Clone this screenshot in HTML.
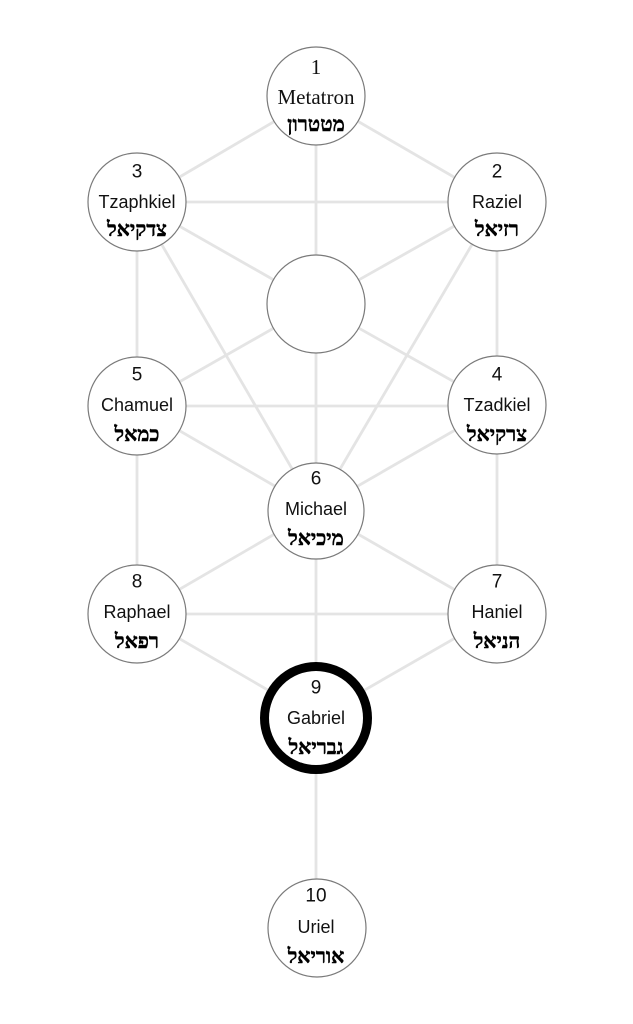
<!DOCTYPE html>
<html>
<head>
<meta charset="utf-8">
<style>
  html,body{margin:0;padding:0;background:#fff;}
  svg{display:block;}
  .num,.name{font-family:"Liberation Sans","DejaVu Sans",sans-serif;font-size:18px;fill:#111;}
  .num{font-size:19px;}
  .serif{font-family:"Liberation Serif","DejaVu Serif",serif;font-size:21px;fill:#111;}
  .heb{font-family:"Liberation Serif","DejaVu Serif",serif;font-size:20.5px;font-weight:bold;fill:#000;stroke:#000;stroke-width:0.45;}
</style>
</head>
<body>
<svg width="633" height="1024" viewBox="0 0 633 1024" xmlns="http://www.w3.org/2000/svg">
  <g stroke="#e4e4e4" stroke-width="2.8" fill="none">
    <line x1="316" y1="97" x2="316" y2="927"/>
    <line x1="316" y1="97" x2="137" y2="202"/>
    <line x1="316" y1="97" x2="497" y2="202"/>
    <line x1="137" y1="202" x2="497" y2="202"/>
    <line x1="137" y1="202" x2="316" y2="304"/>
    <line x1="497" y1="202" x2="316" y2="304"/>
    <line x1="137" y1="202" x2="137" y2="614"/>
    <line x1="497" y1="202" x2="497" y2="614"/>
    <line x1="137" y1="202" x2="316" y2="510"/>
    <line x1="497" y1="202" x2="316" y2="510"/>
    <line x1="137" y1="406" x2="316" y2="304"/>
    <line x1="497" y1="406" x2="316" y2="304"/>
    <line x1="137" y1="406" x2="497" y2="406"/>
    <line x1="137" y1="406" x2="316" y2="510"/>
    <line x1="497" y1="406" x2="316" y2="510"/>
    <line x1="316" y1="510" x2="137" y2="614"/>
    <line x1="316" y1="510" x2="497" y2="614"/>
    <line x1="137" y1="614" x2="497" y2="614"/>
    <line x1="137" y1="614" x2="316" y2="718"/>
    <line x1="497" y1="614" x2="316" y2="718"/>
  </g>

  <g fill="#fff" stroke="#7a7a7a" stroke-width="1.2">
    <circle cx="316" cy="96" r="49"/>
    <circle cx="137" cy="202" r="49"/>
    <circle cx="497" cy="202" r="49"/>
    <circle cx="316" cy="304" r="49"/>
    <circle cx="137" cy="406" r="49"/>
    <circle cx="497" cy="405" r="49"/>
    <circle cx="316" cy="511" r="48"/>
    <circle cx="137" cy="614" r="49"/>
    <circle cx="497" cy="614" r="49"/>
    <circle cx="317" cy="928" r="49"/>
  </g>
  <circle cx="316" cy="718" r="51.5" fill="#fff" stroke="#000" stroke-width="9"/>

  <g text-anchor="middle" dominant-baseline="central">
    <text class="serif" x="316" y="67">1</text>
    <text class="serif" x="316" y="97">Metatron</text>
    <text class="heb" x="316" y="125">מטטרון</text>

    <text class="num" x="137" y="172">3</text>
    <text class="name" x="137" y="202">Tzaphkiel</text>
    <text class="heb" x="137" y="230">צדקיאל</text>

    <text class="num" x="497" y="172">2</text>
    <text class="name" x="497" y="202">Raziel</text>
    <text class="heb" x="497" y="230">רזיאל</text>

    <text class="num" x="137" y="375">5</text>
    <text class="name" x="137" y="405">Chamuel</text>
    <text class="heb" x="137" y="435">כמאל</text>

    <text class="num" x="497" y="375">4</text>
    <text class="name" x="497" y="405">Tzadkiel</text>
    <text class="heb" x="497" y="435">צרקיאל</text>

    <text class="num" x="316" y="479">6</text>
    <text class="name" x="316" y="509">Michael</text>
    <text class="heb" x="316" y="539">מיכיאל</text>

    <text class="num" x="137" y="582">8</text>
    <text class="name" x="137" y="612">Raphael</text>
    <text class="heb" x="137" y="642">רפאל</text>

    <text class="num" x="497" y="582">7</text>
    <text class="name" x="497" y="612">Haniel</text>
    <text class="heb" x="497" y="642">הניאל</text>

    <text class="num" x="316" y="688">9</text>
    <text class="name" x="316" y="718">Gabriel</text>
    <text class="heb" x="316" y="748">גבריאל</text>

    <text class="num" x="316" y="896">10</text>
    <text class="name" x="316" y="927">Uriel</text>
    <text class="heb" x="316" y="957">אוריאל</text>
  </g>
</svg>
</body>
</html>
